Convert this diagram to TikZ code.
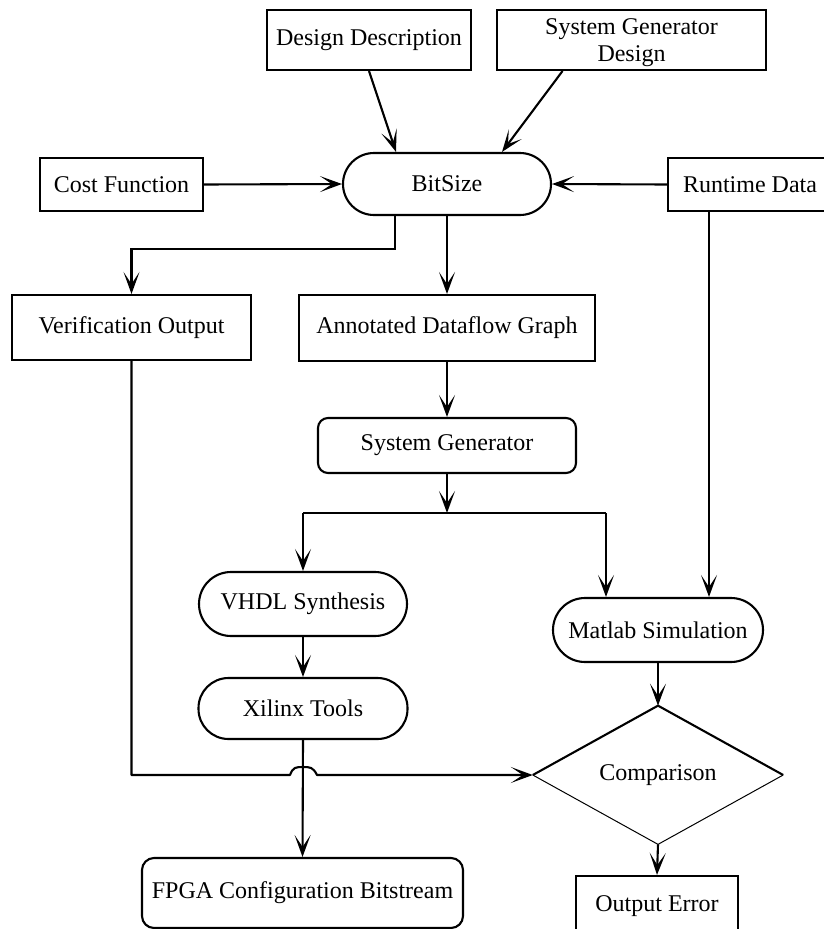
\documentclass[tikz,border=0pt]{standalone}
\usepackage{fontspec}
\setmainfont{Liberation Serif}
\usetikzlibrary{arrows.meta,shapes.geometric,calc}

\begin{document}
\begin{tikzpicture}[x=1pt, y=-1pt,
  txt/.style={inner sep=0pt, align=center, font=\fontsize{24}{27}\selectfont},
  base/.style={txt, draw, line width=2.1pt},
  boxnode/.style={base, rectangle},
  pill/.style={base, rectangle, rounded corners=#1},
  arr/.style={line width=2.1pt, -{Stealth[length=22pt, width=16pt, inset=12pt]}},
  wire/.style={line width=2.1pt}]

\useasboundingbox (0,0) rectangle (824,929);
\clip (0,0) rectangle (824,929);

% inputs
\node[boxnode, minimum width=204pt, minimum height=60pt] (dd) at (369,40) {Design Description};
\node[boxnode, minimum width=269pt, minimum height=60pt] (sgd) at (631.5,40) {};
\node[txt] (sgdtext) at (631.5,43) {System Generator\\Design};
\node[boxnode, minimum width=163pt, minimum height=53pt] (cost) at (121.5,184.5) {Cost Function};
\node[boxnode, minimum width=164pt, minimum height=53pt] (rt) at (750,184.5) {Runtime Data};

% central node
\node[pill=31pt, minimum width=208pt, minimum height=62pt] (bs) at (447,184) {BitSize};

% second row
\node[boxnode, minimum width=239pt, minimum height=65pt] (ver) at (131.5,327.5) {Verification Output};
\node[boxnode, minimum width=296pt, minimum height=66pt] (adg) at (447,328) {Annotated Dataflow Graph};

\node[pill=10pt, minimum width=258pt, minimum height=55pt] (sg) at (447,445.5) {System Generator};

\node[pill=32pt, minimum width=208pt, minimum height=64pt] (vhdl) at (303,604) {VHDL Synthesis};
\node[pill=30pt, minimum width=209pt, minimum height=61pt] (xil) at (303,708.5) {Xilinx Tools};
\node[pill=12pt, minimum width=321pt, minimum height=70pt] (fpga) at (302.5,893) {FPGA Configuration Bitstream};

\node[pill=32pt, minimum width=210pt, minimum height=64pt] (mat) at (658,630) {Matlab Simulation};

% decision
\node[txt, diamond, minimum width=250pt, minimum height=106pt] (cmp) at (658,775) {Comparison};
\draw[line width=2.1pt, line join=miter] (cmp.west) -- (cmp.north) -- (cmp.east);
\draw[line width=1pt] (cmp.east) -- (cmp.south) -- (cmp.west);

\node[boxnode, minimum width=162pt, minimum height=60pt] (oe) at (657,906) {Output Error};

% connectors into BitSize
\draw[arr] (dd.south) -- ($(bs.north)+(-51,0)$);
\draw[arr] ($(sgd.south)+(-69,0)$) -- ($(bs.north)+(55,0)$);
\draw[arr] (cost.east) -- (bs.west);
\draw[arr] (rt.west) -- (bs.east);

% out of BitSize
\coordinate (vk) at (395,249);
\draw[arr] ($(bs.south)+(-52,0)$) -- (vk) -| (ver.north);
\draw[arr] (bs.south) -- (adg.north);
\draw[arr] (adg.south) -- (sg.north);

% split after System Generator
\coordinate (split) at (447,513);
\coordinate (bl) at (303,513);
\coordinate (br) at (606,513);
\draw[arr] (sg.south) -- (split);
\draw[wire] (bl) -- (br);
\draw[arr] (bl) -- (vhdl.north);
\draw[arr] (br) -- (br |- mat.north);

\draw[arr] (vhdl.south) -- (xil.north);
\draw[arr] (xil.south) -- (fpga.north);

% runtime data to simulation
\draw[arr] ($(rt.south)+(-41,0)$) -- ($(mat.north)+(51,0)$);
\draw[arr] (mat.south) -- (cmp.north);
\draw[arr] (cmp.south) -- (oe.north);

% verification output to comparison, hopping over the Xilinx line
\coordinate (hop) at (xil.south |- cmp.west);
\draw[arr, line join=round] (ver.south) |- ($(hop)+(-13,0)$)
  .. controls ($(hop)+(-10,-8)$) and ($(hop)+(-7,-8)$) .. ($(hop)+(0,-8)$)
  .. controls ($(hop)+(7,-8)$) and ($(hop)+(10,-8)$) .. ($(hop)+(14,0)$)
  -- (cmp.west);

\end{tikzpicture}
\end{document}
